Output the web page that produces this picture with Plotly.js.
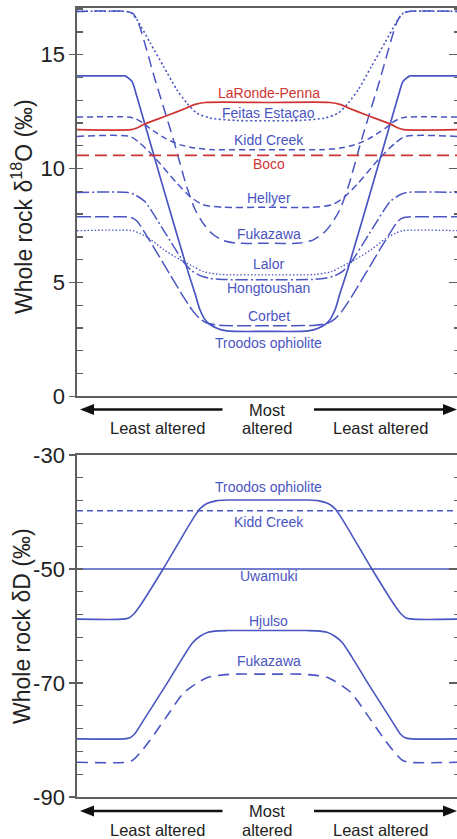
<!DOCTYPE html>
<html>
<head>
<meta charset="utf-8">
<script src="https://cdn.plot.ly/plotly-3.0.1.min.js"></script>
<style>
html,body{margin:0;padding:0;background:#fff;overflow:hidden;width:457px;height:839px;}
#chart{width:460px;height:839px;}
</style>
</head>
<body>
<div id="chart"></div>
<script>
// ---------- DATA (x: 0 = least altered, 50 = most altered, 100 = least altered) ----------
// Top panel: whole rock d18O
const xTroodosO = [0,11.5,12.6,14.4,15.7,22.3,28.8,31.0,32.3,34.0,36.7,39.3,50,60.7,63.3,66.0,67.7,69.0,71.2,77.7,84.3,85.6,87.4,88.5,100];
const yTroodosO = [14.07,14.07,14.07,13.83,13.17,9.35,5.65,4.5,3.79,3.28,2.99,2.87,2.85,2.87,2.99,3.28,3.79,4.5,5.65,9.35,13.17,13.83,14.07,14.07,14.07];

const xCorbet = [0,12.6,14.2,15.7,19.2,24.4,27.9,30.4,32.3,34.1,37.5,50,62.5,65.9,67.7,69.6,72.1,75.6,80.8,84.3,85.8,87.4,100];
const yCorbet = [7.88,7.88,7.85,7.7,6.8,5.35,4.38,3.75,3.4,3.22,3.12,3.1,3.12,3.22,3.4,3.75,4.38,5.35,6.8,7.7,7.85,7.88,7.88];

const xHongtoushan = [0,13.4,15.2,17.8,23.1,28.3,30.2,32.3,34.9,38.1,50,61.9,65.1,67.7,69.8,71.7,76.9,82.2,84.8,86.6,100];
const yHongtoushan = [8.95,8.95,8.85,8.55,7.19,5.83,5.5,5.3,5.18,5.13,5.12,5.13,5.18,5.3,5.5,5.83,7.19,8.55,8.85,8.95,8.95];

const xLalor = [0,14.7,16.5,19.2,22.7,27.0,30.5,33.1,37.5,50,62.5,66.9,69.5,73.0,77.3,80.8,83.5,85.3,100];
const yLalor = [7.27,7.27,7.15,6.9,6.45,6.0,5.7,5.48,5.35,5.33,5.35,5.48,5.7,6.0,6.45,6.9,7.15,7.27,7.27];

const xHellyer = [0,13.9,16.5,20.9,26.2,29.7,33.1,38.4,50,61.6,66.9,70.3,73.8,79.1,83.5,86.1,100];
const yHellyer = [11.41,11.41,11.12,10.39,9.36,8.77,8.41,8.3,8.3,8.3,8.41,8.77,9.36,10.39,11.12,11.41,11.41];

const xKiddO = [0,13.4,15.2,17.4,19.2,23.5,27.0,31.0,35.7,50,64.3,69.0,73.0,76.5,80.8,82.6,84.8,86.6,100];
const yKiddO = [12.26,12.26,12.2,12.0,11.75,11.3,11.05,10.9,10.83,10.83,10.83,10.9,11.05,11.3,11.75,12.0,12.2,12.26,12.26];

const xFeitas = [0,13.0,14.2,15.7,19.2,22.7,26.2,28.8,31.4,34.9,41.9,50,58.1,65.1,68.6,71.2,73.8,77.3,80.8,84.3,85.8,87.0,100];
const yFeitas = [16.9,16.9,16.85,16.55,15.52,14.49,13.46,12.88,12.44,12.22,12.11,12.1,12.11,12.22,12.44,12.88,13.46,14.49,15.52,16.55,16.85,16.9,16.9];

const xFukazawaO = [0,12.9,14.7,16.1,20.5,25.3,28.8,31.0,33.1,35.4,38.1,41.5,50,58.5,61.9,64.6,66.9,69.0,71.2,74.7,79.5,83.9,85.3,87.1,100];
const yFukazawaO = [16.9,16.9,16.8,16.4,13.9,11.27,9.2,8.2,7.6,7.15,6.86,6.73,6.72,6.73,6.86,7.15,7.6,8.2,9.2,11.27,13.9,16.4,16.8,16.9,16.9];

const xLaRonde = [0,14.2,15.7,17.4,24.4,28.6,31.0,33.6,50,66.4,69.0,71.4,75.6,82.6,84.3,85.8,100];
const yLaRonde = [11.71,11.71,11.78,11.93,12.37,12.65,12.82,12.9,12.9,12.9,12.82,12.65,12.37,11.93,11.78,11.71,11.71];

const xBoco = [0,100];
const yBoco = [10.58,10.58];

// Bottom panel: whole rock dD
const xTroodosD = [0,12.0,13.6,14.9,16.5,22.6,27.9,31.0,32.3,34.1,36.5,39.4,50,60.6,63.5,65.9,67.7,69.0,72.1,77.4,83.5,85.1,86.4,88.0,100];
const yTroodosD = [-58.8,-58.8,-58.6,-57.9,-56.5,-50,-44.0,-40.6,-39.4,-38.5,-38.05,-37.9,-37.9,-37.9,-38.05,-38.5,-39.4,-40.6,-44.0,-50,-56.5,-57.9,-58.6,-58.8,-58.8];

const xHjulso = [0,12.3,13.9,15.2,17.4,23.5,27.8,30.4,32.3,34.4,37.0,39.6,50,60.4,63.0,65.6,67.7,69.6,72.2,76.5,82.6,84.8,86.1,87.7,100];
const yHjulso = [-79.8,-79.8,-79.6,-78.9,-76.6,-70.2,-65.5,-62.9,-61.8,-61.1,-60.85,-60.8,-60.8,-60.8,-60.85,-61.1,-61.8,-62.9,-65.5,-70.2,-76.6,-78.9,-79.6,-79.8,-79.8];

const xFukazawaD = [0,13.0,14.7,16.5,19.2,23.5,27.9,30.2,32.3,34.4,36.7,41.0,50,59.0,63.3,65.6,67.7,69.8,72.1,76.5,80.8,83.5,85.3,87.0,100];
const yFukazawaD = [-83.9,-83.9,-83.5,-82.3,-80.0,-75.9,-71.8,-70.6,-69.7,-69.0,-68.7,-68.45,-68.45,-68.45,-68.7,-69.0,-69.7,-70.6,-71.8,-75.9,-80.0,-82.3,-83.5,-83.9,-83.9];

const xKiddD = [0,100];
const yKiddD = [-39.8,-39.8];
const xUwamuki = [0,100];
const yUwamuki = [-50,-50];

// Labels
const topLabels = ["LaRonde-Penna","Feitas Estaçao","Kidd Creek","Boco","Hellyer","Fukazawa","Lalor","Hongtoushan","Corbet","Troodos ophiolite"];
const topLabelY = [13.31,12.46,11.26,10.21,8.70,7.12,5.80,4.75,3.53,2.36];
const topLabelRed = [true,false,false,true,false,false,false,false,false,false];
const botLabels = ["Troodos ophiolite","Kidd Creek","Uwamuki","Hjulso","Fukazawa"];
const botLabelY = [-35.6,-41.8,-51.3,-59.1,-66.2];

const topRange = [0,17.05];
const botRange = [-90,-30];
const topTicks = [0,5,10,15];
const topTickText = ['0','5','10','15'];
const botTicks = [-90,-70,-50,-30];
const botTickText = ['-90','-70','-50','-30'];

// ---------- STYLE ----------
const BLUE = '#4a55c2';
const RED = '#cf3434';
const FONT = 'Liberation Sans, Arial, Helvetica, sans-serif';
const AX = '#5f5f5f';

function tr(x,y,color,dash,ax,w){
  return {x:x,y:y,type:'scatter',mode:'lines',xaxis:ax[0],yaxis:ax[1],
    line:{color:color,width:w||1.5,dash:dash,shape:'spline',smoothing:0.7},
    hoverinfo:'skip',showlegend:false};
}
const T=['x','y'], B=['x2','y2'];
const data = [
  tr(xFeitas,yFeitas,BLUE,'2px,2.5px',T,1.6),
  tr(xFukazawaO,yFukazawaO,BLUE,'11px,6px',T),
  tr(xKiddO,yKiddO,BLUE,'6px,4px',T),
  tr(xHellyer,yHellyer,BLUE,'7px,4px',T),
  tr(xHongtoushan,yHongtoushan,BLUE,'12px,3px,2px,3px',T),
  tr(xCorbet,yCorbet,BLUE,'14px,4px',T),
  tr(xLalor,yLalor,BLUE,'1.5px,2px',T,1.3),
  tr(xTroodosO,yTroodosO,BLUE,'solid',T,1.7),
  tr(xBoco,yBoco,RED,'12px,6px',T,1.6),
  tr(xLaRonde,yLaRonde,RED,'solid',T,1.7),
  tr(xTroodosD,yTroodosD,BLUE,'solid',B,1.6),
  tr(xKiddD,yKiddD,BLUE,'6px,4px',B),
  tr(xUwamuki,yUwamuki,BLUE,'solid',B,1.6),
  tr(xHjulso,yHjulso,BLUE,'solid',B,1.6),
  tr(xFukazawaD,yFukazawaD,BLUE,'11px,7px',B,1.6),
  {x:[0],y:[null],xaxis:'x',yaxis:'y3',type:'scatter',mode:'lines',showlegend:false,hoverinfo:'skip'},
  {x:[0],y:[null],xaxis:'x',yaxis:'y4',type:'scatter',mode:'lines',showlegend:false,hoverinfo:'skip'},
  {x:[0],y:[null],xaxis:'x2',yaxis:'y5',type:'scatter',mode:'lines',showlegend:false,hoverinfo:'skip'},
  {x:[0],y:[null],xaxis:'x2',yaxis:'y6',type:'scatter',mode:'lines',showlegend:false,hoverinfo:'skip'}
];

// pixel helpers
const ML=77, MT=8, MB=42, H=839, PW=381;
const PH = H-MT-MB;
const xp = px => (px-ML)/PW;
const yp = py => (H-MB-py)/PH;

const topDom = [yp(396.3),1];
const botDom = [0,yp(455)];

function xax(anchor){
  return {domain:[0,1],range:[0,100],anchor:anchor,showline:true,linecolor:AX,linewidth:1.7,mirror:true,
    ticks:'',showticklabels:false,showgrid:false,zeroline:false,fixedrange:true};
}
function yMain(dom,range,ticks,ticktext,anchor){
  return {domain:dom,range:range,anchor:anchor,showline:true,linecolor:AX,linewidth:1.7,
    tickmode:'array',tickvals:ticks,ticktext:ticktext,ticks:'outside',ticklen:6,tickwidth:1.3,tickcolor:AX,
    tickfont:{family:FONT,size:22,color:'#222'},showgrid:false,zeroline:false,fixedrange:true};
}
function yLeftIn(over,range,d0,dt,anchor){
  return {overlaying:over,anchor:anchor,side:'left',range:range,tick0:d0,dtick:dt,ticks:'inside',ticklen:6,tickwidth:1.3,
    tickcolor:AX,showticklabels:false,showline:false,showgrid:false,zeroline:false,fixedrange:true};
}
function yRightIn(over,range,d0,dtMaj,dtMin,anchor){
  return {overlaying:over,anchor:anchor,side:'right',range:range,tick0:d0,dtick:dtMaj,ticks:'inside',ticklen:9,tickwidth:1.3,
    tickcolor:AX,minor:{ticks:'inside',ticklen:4,tick0:d0,dtick:dtMin,tickcolor:AX,tickwidth:1.3},
    showticklabels:false,showline:true,linecolor:AX,linewidth:1.7,showgrid:false,zeroline:false,fixedrange:true};
}

const annotations = [];
topLabels.forEach((t,i)=>annotations.push({xref:'x',yref:'y',x:50.3,y:topLabelY[i],text:t,showarrow:false,
  xanchor:'center',yanchor:'middle',font:{family:FONT,size:14,color:topLabelRed[i]?RED:BLUE}}));
botLabels.forEach((t,i)=>annotations.push({xref:'x2',yref:'y2',x:50.3,y:botLabelY[i],text:t,showarrow:false,
  xanchor:'center',yanchor:'middle',font:{family:FONT,size:14,color:BLUE}}));

function txt(px,py,t,size){
  annotations.push({xref:'paper',yref:'paper',x:xp(px),y:yp(py),text:t,showarrow:false,
    xanchor:'center',yanchor:'middle',font:{family:FONT,size:size||16.5,color:'#222'}});
}
// y axis titles
annotations.push({xref:'paper',yref:'paper',x:xp(22),y:yp(207),text:'Whole rock δ<sup>18</sup>O (‰)',textangle:-90,
  showarrow:false,xanchor:'center',yanchor:'middle',font:{family:FONT,size:23,color:'#222'}});
annotations.push({xref:'paper',yref:'paper',x:xp(22),y:yp(626),text:'Whole rock δD (‰)',textangle:-90,
  showarrow:false,xanchor:'center',yanchor:'middle',font:{family:FONT,size:23,color:'#222'}});

const shapes = [];
function arrows(py){
  shapes.push({type:'line',xref:'paper',yref:'paper',x0:xp(222.5),x1:xp(90),y0:yp(py),y1:yp(py),line:{color:'#111',width:2.6}});
  shapes.push({type:'path',xref:'paper',yref:'paper',
    path:`M ${xp(80)} ${yp(py)} L ${xp(94)} ${yp(py-5.5)} L ${xp(94)} ${yp(py+5.5)} Z`,fillcolor:'#111',line:{width:0}});
  shapes.push({type:'line',xref:'paper',yref:'paper',x0:xp(314),x1:xp(446),y0:yp(py),y1:yp(py),line:{color:'#111',width:2.6}});
  shapes.push({type:'path',xref:'paper',yref:'paper',
    path:`M ${xp(457)} ${yp(py)} L ${xp(443)} ${yp(py-5.5)} L ${xp(443)} ${yp(py+5.5)} Z`,fillcolor:'#111',line:{width:0}});
}
arrows(409.5); arrows(811);
txt(267,409.5,'Most'); txt(267,427.5,'altered');
txt(157.5,427.5,'Least altered'); txt(380,427.5,'Least altered');
txt(267,811,'Most'); txt(267,829.5,'altered');
txt(157.5,829.5,'Least altered'); txt(380,829.5,'Least altered');

const layout = {
  width:460,height:H,margin:{l:ML,r:2,t:MT,b:MB},
  paper_bgcolor:'#fff',plot_bgcolor:'rgba(0,0,0,0)',showlegend:false,
  font:{family:FONT},
  xaxis:xax('y'), xaxis2:xax('y2'),
  yaxis:yMain(topDom,topRange,topTicks,topTickText,'x'),
  yaxis2:yMain(botDom,botRange,botTicks,botTickText,'x2'),
  yaxis3:yLeftIn('y',topRange,0,1,'x'),
  yaxis4:yRightIn('y',topRange,0,5,1,'x'),
  yaxis5:yLeftIn('y2',botRange,-30,4,'x2'),
  yaxis6:yRightIn('y2',botRange,-30,20,4,'x2'),
  annotations:annotations, shapes:shapes
};
Plotly.newPlot('chart',data,layout,{staticPlot:true,displayModeBar:false});
</script>
</body>
</html>
